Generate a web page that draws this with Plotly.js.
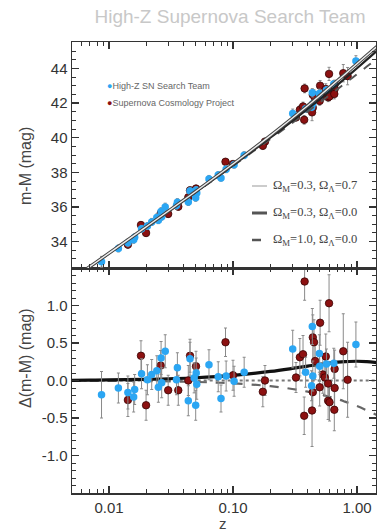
<!DOCTYPE html>
<html>
<head>
<meta charset="utf-8">
<script src="https://cdn.plot.ly/plotly-3.0.1.min.js"></script>
<style>html,body{margin:0;padding:0;background:#fff;}#chart{width:377px;height:532px;}</style>
</head>
<body>
<div id="chart"></div>
<script>
// ---- Data ----
// High-Z SN Search Team
const blueZ   = [0.0087,0.0119,0.0142,0.0161,0.0158,0.0183,0.0204,0.0221,0.0243,0.0263,0.0284,0.0250,0.0266,0.0356,0.0350,0.0436,0.0450,0.0505,0.0486,0.0510,0.0500,0.064,0.076,0.080,0.088,0.102,0.123,0.303,0.436,0.497,0.567,0.65,0.50,0.385,0.44,0.43,0.98];
const blueMu  = [32.84,33.61,33.93,34.25,34.11,34.74,34.90,35.14,35.40,35.74,36.00,35.24,35.44,36.28,36.08,36.29,36.92,36.98,36.83,36.81,36.53,37.62,37.84,37.67,38.18,38.44,38.99,41.40,42.59,42.55,42.75,43.10,42.40,41.67,41.95,41.76,44.43];
const blueD   = [-0.19,-0.10,-0.16,-0.12,-0.22,0.09,0.01,0.08,0.13,0.30,0.39,-0.09,-0.03,0.17,0.01,-0.27,0.29,0.10,0.035,-0.05,-0.33,0.21,0.05,-0.24,0.06,-0.01,0.11,0.42,0.72,0.36,0.22,0.23,0.19,0.11,0.06,-0.07,0.48];
const blueErr = [0.31,0.20,0.22,0.20,0.20,0.20,0.20,0.20,0.20,0.22,0.22,0.20,0.20,0.20,0.20,0.20,0.22,0.20,0.20,0.20,0.20,0.20,0.20,0.18,0.20,0.20,0.20,0.25,0.24,0.25,0.20,0.20,0.20,0.20,0.20,0.20,0.30];
// Supernova Cosmology Project
const redZ   = [0.0142,0.0181,0.0199,0.0261,0.0300,0.0362,0.0436,0.0450,0.0503,0.087,0.100,0.181,0.174,0.378,0.375,0.322,0.346,0.367,0.504,0.595,0.44,0.45,0.46,0.53,0.50,0.44,0.585,0.434,0.775,0.84,0.56,0.55,0.66,0.66,0.585,0.60,0.656];
const redMu  = [33.83,34.96,34.50,35.63,35.60,36.02,36.56,36.96,37.06,38.61,38.48,39.77,39.53,42.84,41.03,41.17,41.61,41.80,43.00,43.68,42.47,42.46,42.26,42.43,42.12,41.73,42.33,41.46,43.72,43.55,42.81,42.49,43.07,42.81,42.56,42.38,42.52];
const redD   = [-0.26,0.33,-0.33,0.20,-0.13,-0.13,0.00,0.33,0.19,0.51,0.07,0.00,-0.15,1.32,-0.47,0.04,0.31,0.35,0.77,1.03,0.575,0.51,0.26,0.08,-0.09,-0.155,-0.27,-0.40,0.39,0.01,0.32,0.04,0.155,-0.10,-0.04,-0.29,-0.39];
const redErr = [0.22,0.20,0.20,0.20,0.20,0.20,0.20,0.22,0.20,0.19,0.20,0.20,0.20,0.25,0.25,0.20,0.25,0.25,0.30,0.38,0.30,0.30,0.25,0.25,0.25,0.25,0.25,0.48,0.50,0.50,0.30,0.25,0.25,0.25,0.25,0.25,0.28];
// Model curves
const curveZ  = [0.005,0.007,0.01,0.02,0.05,0.1,0.2,0.3,0.4,0.5,0.6,0.7,0.8,1.0,1.2,1.4,1.45];
const muFlat  = [31.823,32.557,33.337,34.859,36.897,38.477,40.118,41.117,41.846,42.423,42.900,43.308,43.664,44.262,44.751,45.165,45.260];
const muOpen  = [31.820,32.552,33.329,34.843,36.860,38.409,39.997,40.956,41.654,42.207,42.668,43.064,43.413,44.005,44.500,44.924,45.022];
const muEdS   = [31.818,32.549,33.325,34.836,36.841,38.371,39.922,40.843,41.505,42.024,42.451,42.815,43.131,43.664,44.102,44.474,44.559];
const dFlat   = [0.003,0.005,0.008,0.016,0.037,0.068,0.121,0.161,0.192,0.216,0.232,0.244,0.251,0.257,0.251,0.241,0.238];
const dOpen   = [0,0,0,0,0,0,0,0,0,0,0,0,0,0,0,0,0];
const dEdS    = [-0.002,-0.003,-0.004,-0.007,-0.019,-0.038,-0.075,-0.113,-0.149,-0.183,-0.217,-0.249,-0.282,-0.341,-0.398,-0.450,-0.463];
const xTickVals = [0.01,0.1,1];
const xTickText = ["0.01","0.10","1.00"];
const yTopTicks = [34,36,38,40,42,44];
const yBotTicks = [-1,-0.5,0,0.5,1];
const yBotText  = ["-1.0","-0.5","0.0","0.5","1.0"];
const legendData  = ["High-Z SN Search Team","Supernova Cosmology Project"];
const legendLines = ["Ω<sub>M</sub>=0.3, Ω<sub>Λ</sub>=0.7","Ω<sub>M</sub>=0.3, Ω<sub>Λ</sub>=0.0","Ω<sub>M</sub>=1.0, Ω<sub>Λ</sub>=0.0"];

const BLUE = '#2ba6f3', RED = '#8c1111';
const errStyle = (arr) => ({type:'data', array:arr, visible:true, color:'#8a8a8a', thickness:1, width:1.5});

const traces = [
  // bottom panel lines (under markers)
  {x:curveZ, y:dOpen, xaxis:'x', yaxis:'y', mode:'lines', line:{color:'#777', width:2, dash:'dot'}, hoverinfo:'skip'},
  {x:curveZ, y:dEdS, xaxis:'x', yaxis:'y', mode:'lines', line:{color:'#666', width:2.2, dash:'dash', shape:'spline'}, hoverinfo:'skip'},
  {x:curveZ, y:dFlat, xaxis:'x', yaxis:'y', mode:'lines', line:{color:'#111', width:3.2, shape:'spline'}, hoverinfo:'skip'},
  // bottom panel data
  {x:redZ, y:redD, xaxis:'x', yaxis:'y', mode:'markers', error_y:errStyle(redErr),
   marker:{color:RED, size:7.5, line:{color:'#3a0505', width:0.8}}},
  {x:blueZ, y:blueD, xaxis:'x', yaxis:'y', mode:'markers', error_y:errStyle(blueErr),
   marker:{color:BLUE, size:7.5, line:{width:0}}},
  // top panel data
  {x:redZ, y:redMu, xaxis:'x2', yaxis:'y2', mode:'markers', error_y:errStyle(redErr),
   marker:{color:RED, size:7.5, line:{color:'#3a0505', width:0.8}}},
  {x:blueZ, y:blueMu, xaxis:'x2', yaxis:'y2', mode:'markers', error_y:errStyle(blueErr),
   marker:{color:BLUE, size:7.5, line:{width:0}}},
  // top panel lines (over markers)
  {x:curveZ, y:muEdS, xaxis:'x2', yaxis:'y2', mode:'lines', line:{color:'#555', width:2, dash:'dash', shape:'spline'}, hoverinfo:'skip'},
  {x:curveZ, y:muOpen, xaxis:'x2', yaxis:'y2', mode:'lines', line:{color:'#222', width:2.2, shape:'spline'}, hoverinfo:'skip'},
  {x:curveZ, y:muFlat, xaxis:'x2', yaxis:'y2', mode:'lines', line:{color:'#444', width:3.4, shape:'spline'}, hoverinfo:'skip'},
  {x:curveZ, y:muFlat, xaxis:'x2', yaxis:'y2', mode:'lines', line:{color:'#eeeeee', width:1.4, shape:'spline'}, hoverinfo:'skip'}
];

const L = 72, R = 1, T = 42, B = 39, W = 377, H = 532;
const PW = W - L - R, PH = H - T - B;
const px = (x) => (x - L) / PW;
const py = (y) => (H - B - y) / PH;
const split = py(268);

const axisCommon = {
  showline:true, linecolor:'#333', linewidth:1.5, mirror:'ticks',
  ticks:'inside', ticklen:7, tickwidth:1.3, tickcolor:'#333',
  showgrid:false, zeroline:false,
  tickfont:{family:'Liberation Sans, Arial, sans-serif', size:15, color:'#333'}
};
const xRange = [Math.log10(0.005029), Math.log10(1.4228)];

const layout = {
  width:W, height:H, margin:{l:L, r:R, t:T, b:B},
  paper_bgcolor:'#fff', plot_bgcolor:'#fff', showlegend:false,
  title:{text:'High-Z Supernova Search Team', x:230/W, xref:'container', xanchor:'center', y:1-16/H, yref:'container', yanchor:'middle',
         font:{family:'Liberation Sans, Arial, sans-serif', size:19, color:'#c8c8c8'}},
  xaxis:Object.assign({}, axisCommon, {type:'log', range:xRange, anchor:'y', tickmode:'array', tickvals:xTickVals, ticktext:xTickText,
    minor:{ticks:'inside', ticklen:4, tickwidth:1, tickcolor:'#333', dtick:'D1', showgrid:false}}),
  xaxis2:Object.assign({}, axisCommon, {type:'log', range:xRange, anchor:'y2', matches:'x', showticklabels:false, tickmode:'array', tickvals:xTickVals,
    minor:{ticks:'inside', ticklen:4, tickwidth:1, tickcolor:'#333', dtick:'D1', showgrid:false}}),
  yaxis:Object.assign({}, axisCommon, {domain:[0, split], range:[-1.5, 1.5], tickmode:'array', tickvals:yBotTicks, ticktext:yBotText,
    minor:{ticks:'inside', ticklen:4, tickwidth:1, tickcolor:'#333', dtick:0.1, tick0:0, showgrid:false}}),
  yaxis2:Object.assign({}, axisCommon, {domain:[split, 1], range:[32.48, 45.52], tickmode:'array', tickvals:yTopTicks,
    minor:{ticks:'inside', ticklen:4, tickwidth:1, tickcolor:'#333', dtick:0.5, tick0:0, showgrid:false}}),
  shapes:[
    {type:'line', xref:'paper', yref:'paper', x0:px(252), x1:px(267), y0:py(186), y1:py(186), line:{color:'#bbb', width:1.5}},
    {type:'line', xref:'paper', yref:'paper', x0:px(252), x1:px(267), y0:py(213), y1:py(213), line:{color:'#555', width:3}},
    {type:'line', xref:'paper', yref:'paper', x0:px(252), x1:px(267), y0:py(240), y1:py(240), line:{color:'#555', width:2.5, dash:'dash'}}
  ],
  annotations:[
    {xref:'paper', yref:'paper', x:px(105), y:py(86), xanchor:'left', yanchor:'middle', showarrow:false,
     text:'<span style="color:'+BLUE+'">●</span>'+legendData[0], font:{family:'Liberation Sans, Arial, sans-serif', size:9, color:'#666'}},
    {xref:'paper', yref:'paper', x:px(105), y:py(103), xanchor:'left', yanchor:'middle', showarrow:false,
     text:'<span style="color:'+RED+'">●</span>'+legendData[1], font:{family:'Liberation Sans, Arial, sans-serif', size:9, color:'#666'}},
    {xref:'paper', yref:'paper', x:px(271), y:py(186), xanchor:'left', yanchor:'middle', showarrow:false,
     text:legendLines[0], font:{family:'Liberation Serif, Times New Roman, serif', size:12.5, color:'#444'}},
    {xref:'paper', yref:'paper', x:px(271), y:py(213), xanchor:'left', yanchor:'middle', showarrow:false,
     text:legendLines[1], font:{family:'Liberation Serif, Times New Roman, serif', size:12.5, color:'#444'}},
    {xref:'paper', yref:'paper', x:px(271), y:py(240), xanchor:'left', yanchor:'middle', showarrow:false,
     text:legendLines[2], font:{family:'Liberation Serif, Times New Roman, serif', size:12.5, color:'#444'}},
    {xref:'paper', yref:'paper', x:px(25), y:py(166), xanchor:'center', yanchor:'middle', textangle:-90, showarrow:false,
     text:'m-M (mag)', font:{family:'Liberation Sans, Arial, sans-serif', size:16, color:'#444'}},
    {xref:'paper', yref:'paper', x:px(25), y:py(358), xanchor:'center', yanchor:'middle', textangle:-90, showarrow:false,
     text:'Δ(m-M) (mag)', font:{family:'Liberation Sans, Arial, sans-serif', size:16, color:'#444'}},
    {xref:'paper', yref:'paper', x:px(223), y:py(523), xanchor:'center', yanchor:'middle', showarrow:false,
     text:'z', font:{family:'Liberation Sans, Arial, sans-serif', size:15, color:'#444'}}
  ]
};

Plotly.newPlot('chart', traces, layout, {staticPlot:true, displayModeBar:false});
</script>
</body>
</html>
